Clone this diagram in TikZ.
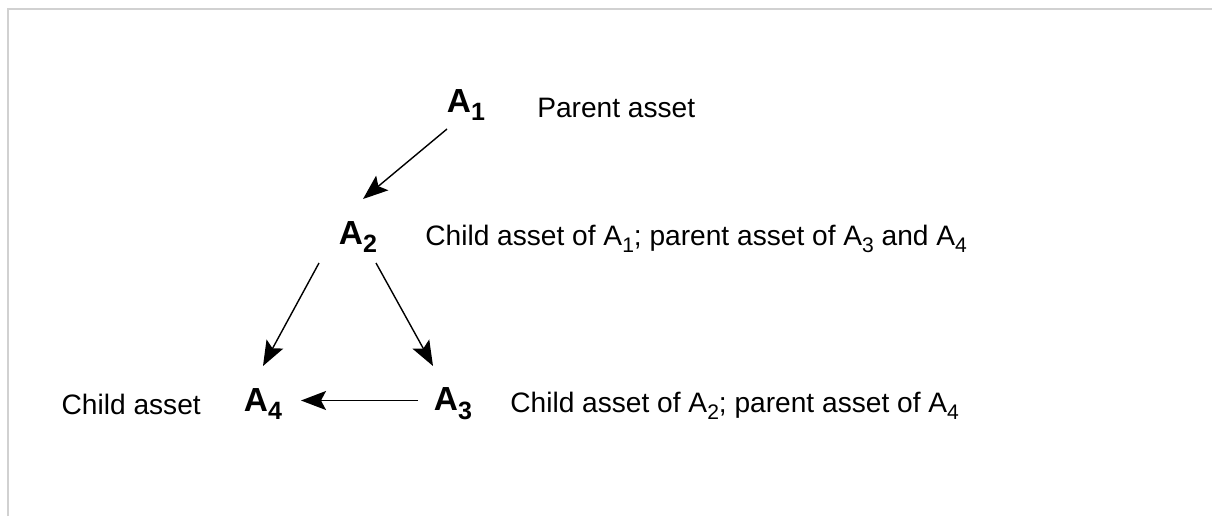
\documentclass[tikz,border=0pt]{standalone}
\usepackage{graphicx}
\usepackage{fontspec}
\setmainfont{Liberation Sans}
\usetikzlibrary{positioning, arrows.meta}

\newcommand{\lowidx}[1]{\raisebox{-0.5ex}{\scalebox{0.75}{#1}}}

\begin{document}
\begin{tikzpicture}[
  asset/.style={font=\fontsize{19}{22}\selectfont\bfseries, inner sep=0pt},
  note/.style={font=\fontsize{16}{19}\selectfont, inner sep=0pt},
  arrow/.style={-{Stealth[length=5mm, width=3.8mm, inset=1mm]}, line width=0.8pt}
]
  \useasboundingbox (0,0) rectangle (24.24,10.32);

  % Frame (top and left edge)
  \draw[black!18, line width=1.7pt] (0.16,0) -- (0.16,10.14) -- (24.24,10.14);

  % Parent asset
  \node[asset] (a1) at (9.32,8.22) {A\lowidx{1}};
  \node[note, anchor=west] (n1) at (10.74,8.16) {Parent asset};

  % Middle asset
  \node[asset] (a2) at (7.16,5.58) {A\lowidx{2}};
  \node[note, anchor=west] (n2) at (8.50,5.54) {Child asset of A\lowidx{1}; parent asset of A\lowidx{3} and A\lowidx{4}};

  % Bottom row
  \node[asset] (a4) at (5.26,2.24) {A\lowidx{4}};
  \node[asset] (a3) at (9.06,2.24) {A\lowidx{3}};
  \node[note, left=0.85cm of a4] (n4) {Child asset};
  \node[note, anchor=west] (n3) at (10.20,2.20) {Child asset of A\lowidx{2}; parent asset of A\lowidx{4}};

  % Arrows
  \draw[arrow] ([xshift=-3.8mm, yshift=-4.8mm]a1.center) -- ([xshift=1mm, yshift=7.6mm]a2.center);
  \draw[arrow] ([xshift=-7.8mm, yshift=-5.2mm]a2.center) -- ([xshift=0mm, yshift=7.6mm]a4.center);
  \draw[arrow] ([xshift=3.6mm, yshift=-5.2mm]a2.center) -- ([xshift=-4mm, yshift=7.6mm]a3.center);
  \draw[arrow] ([xshift=-7mm, yshift=0.7mm]a3.center) -- ([xshift=7.6mm, yshift=0.7mm]a4.center);
\end{tikzpicture}
\end{document}
